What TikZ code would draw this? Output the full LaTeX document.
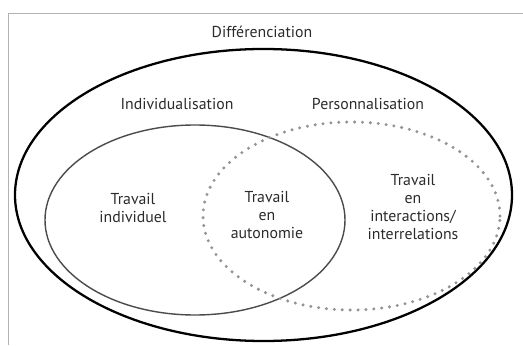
\documentclass[tikz,border=0pt]{standalone}
\usepackage{fontspec}
\setmainfont{PT Sans}
\usetikzlibrary{positioning}
\definecolor{inkgray}{HTML}{2B2B2B}

\begin{document}
\begin{tikzpicture}[
      every node/.style={font=\fontsize{9}{10.4}\selectfont, text=inkgray},
      txt/.style={align=center},
      outerset/.style={line width=1.3pt, black},
      indset/.style={line width=0.8pt, inkgray!85},
      persset/.style={line width=1.9pt, gray!85, line cap=round,
                      dash pattern=on 0pt off 4.5pt},
    ]
    \useasboundingbox (0,0) rectangle (10.46,6.9);
    \draw[gray!60, line width=0.4pt] (0.16,0) -- (0.16,6.64) -- (10.46,6.64);

    \draw[outerset] (5.27,3.0) ellipse [x radius=4.97, y radius=2.92];
    \draw[indset]   (3.9,2.5)  ellipse [x radius=3.0, y radius=1.9];
    \draw[persset]  (7.03,2.58) ellipse [x radius=2.97, y radius=1.88];

    \node[txt] (diff)  at (5.24,6.26) {Différenciation};
    \node[txt] (indiv) at (3.54,4.82) {Individualisation};
    \node[txt] (perso) at (7.36,4.82) {Personnalisation};
    \node[txt] (travind)   at (2.66,2.74) {Travail\\individuel};
    \node[txt] (travauto)  at (5.34,2.6)  {Travail\\en\\autonomie};
    \node[txt] (travinter) at (8.26,2.76) {Travail\\en\\interactions/\\interrelations};
  \end{tikzpicture}
\end{document}
